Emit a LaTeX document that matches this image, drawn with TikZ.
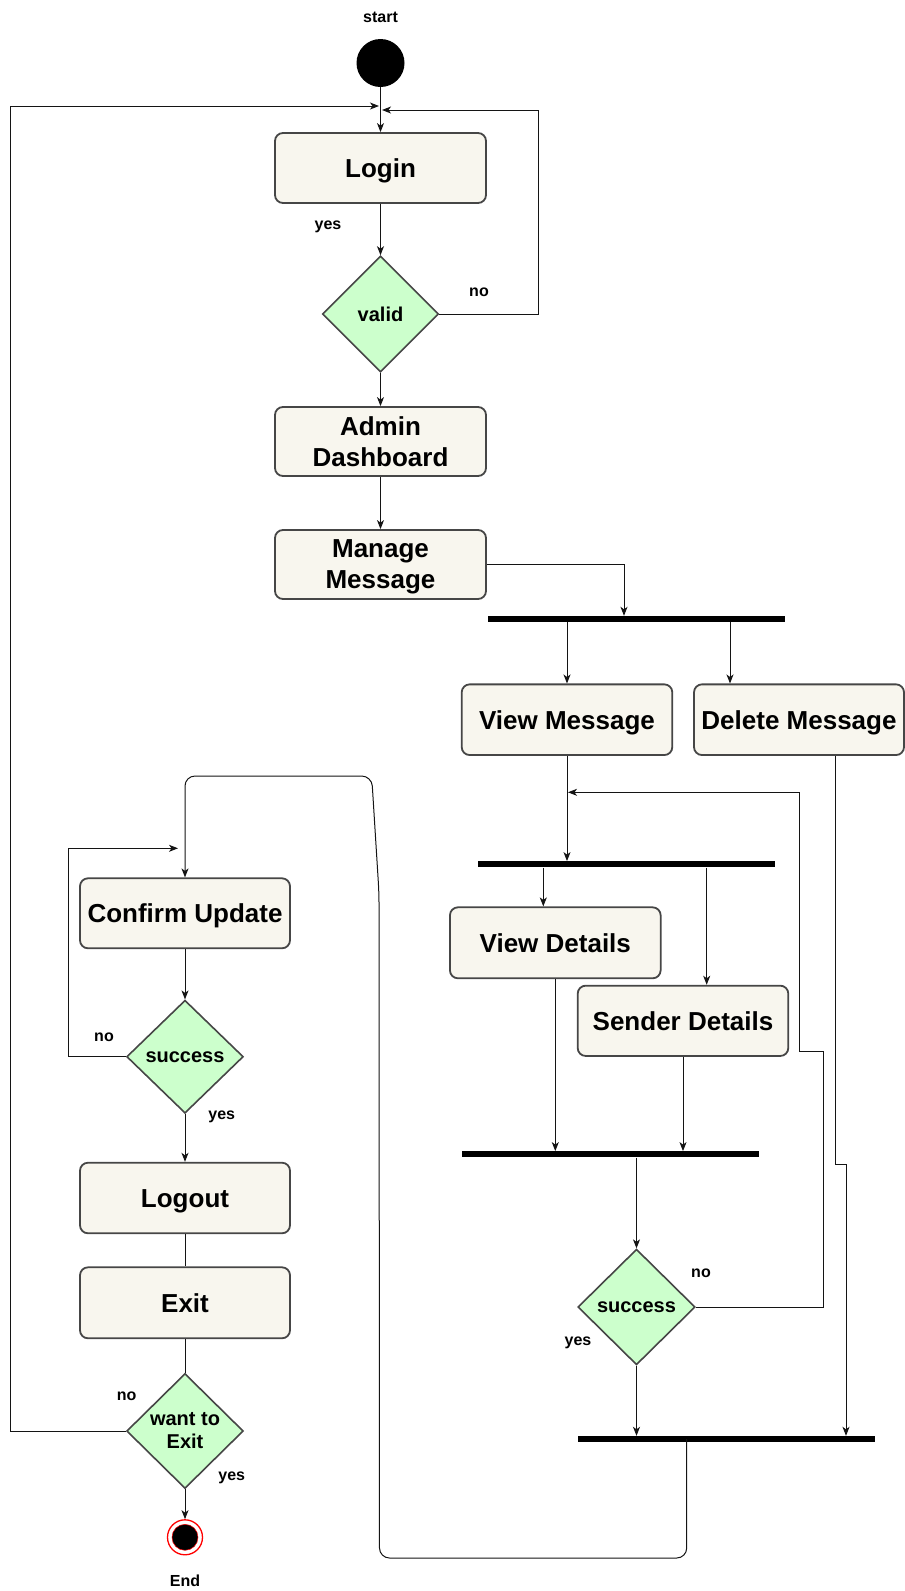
\documentclass[tikz,border=0pt]{standalone}
\usepackage{fontspec}
\setmainfont{Liberation Sans}
\usetikzlibrary{shapes.geometric,arrows.meta}
\definecolor{boxfill}{RGB}{248,246,238}
\definecolor{boxline}{RGB}{70,70,70}
\definecolor{dfill}{RGB}{204,255,204}
\definecolor{conn}{RGB}{20,20,20}
\tikzset{
 act/.style={draw=boxline, line width=1.8pt, fill=boxfill, rounded corners=8pt, inner sep=0pt, font=\fontsize{26}{31}\selectfont\bfseries, align=center},
 oneline/.style={text height=18.7pt, text depth=0pt},
 dec/.style={diamond, draw=boxline, line width=1.6pt, fill=dfill, inner sep=0pt, minimum width=116pt, minimum height=116pt, font=\fontsize{20}{23}\selectfont\bfseries},
 bar/.style={fill=black, inner sep=0pt, minimum height=6pt},
 lbl/.style={font=\fontsize{16}{19}\selectfont\bfseries, inner sep=0pt},
 arr/.style={conn, line width=1pt, -{Stealth[length=9pt,width=7pt,inset=2.5pt]}},
 ln/.style={conn, line width=1pt},
}
\begin{document}
\begin{tikzpicture}[x=1pt,y=-1pt]
\useasboundingbox (0,0) rectangle (905,1591);
% nodes
\node[lbl] (startl) at (380.5,17) {start};
\node[circle, fill=black, minimum size=48pt, inner sep=0pt] (start) at (380.5,63) {};
\node[act, oneline, minimum width=211pt, minimum height=70pt] (login) at (380.5,168) {Login};
\node[dec] (valid) at (380.5,314) {valid};
\node[act, minimum width=211pt, minimum height=69pt] (admin) at (380.5,441.5) {Admin\\Dashboard};
\node[act, minimum width=211pt, minimum height=69pt, text depth=0pt] (manage) at (380.5,564.5) {Manage\\Message};
\node[bar, minimum width=297pt] (bar1) at (636.5,619) {};
\node[act, oneline, minimum width=210.6pt, minimum height=70.7pt] (vm) at (567,719.7) {View Message};
\node[act, oneline, minimum width=210pt, minimum height=70.7pt] (dm) at (799,719.7) {Delete Message};
\node[bar, minimum width=296.7pt] (bar2) at (626.7,864.3) {};
\node[act, oneline, minimum width=210.7pt, minimum height=71pt] (vd) at (555.3,942.8) {View Details};
\node[act, oneline, minimum width=210.6pt, minimum height=70.3pt] (sd) at (683,1020.8) {Sender Details};
\node[bar, minimum width=297.3pt] (bar3) at (610.3,1154.3) {};
\node[dec, minimum width=117.3pt, minimum height=115.7pt] (succ2) at (636.5,1307) {success};
\node[bar, minimum width=296.7pt] (bar4) at (726.7,1439) {};
\node[act, oneline, minimum width=210pt, minimum height=70pt] (cu) at (185,913.3) {Confirm Update};
\node[dec, minimum width=116.7pt, minimum height=113pt] (succ1) at (185,1056.7) {success};
\node[act, oneline, minimum width=210pt, minimum height=70.6pt] (logout) at (185,1198) {Logout};
\node[act, oneline, minimum width=210pt, minimum height=71pt] (exit) at (185,1302.8) {Exit};
\node[dec, minimum width=116.7pt, minimum height=115pt, label={[font=\fontsize{20}{23}\selectfont\bfseries, align=center]center:want to\\Exit}] (wte) at (185,1431) {};
\node[circle, draw=red, line width=1.3pt, fill=white, minimum size=35pt, inner sep=0pt] (endo) at (185,1537.3) {};
\node[circle, draw=red, line width=0.5pt, fill=black, minimum size=26pt, inner sep=0pt] (endi) at (185,1537.3) {};
\node[lbl] (endl) at (185,1581) {End};
% labels
\node[lbl] (yes1) at (328,227) {yes};
\node[lbl] (no1) at (479,292) {no};
\node[lbl] (no2) at (701,1273) {no};
\node[lbl] (yes2) at (578,1343) {yes};
\node[lbl] (no3) at (104,1037) {no};
\node[lbl] (yes3) at (221.7,1117) {yes};
\node[lbl] (no4) at (126.7,1396) {no};
\node[lbl] (yes4) at (231.7,1478) {yes};
% coordinates
\coordinate (v1) at (538,314);
\coordinate (v2) at (538,110);
\coordinate (v3) at (382,110);
\coordinate (m1) at (624,564.5);
\coordinate (d1) at (730,700);
\coordinate (e1) at (543.3,900);
\coordinate (e2) at (706.7,900);
\coordinate (n1) at (823.3,1307);
\coordinate (n2) at (823.3,1051);
\coordinate (n3) at (799.3,1051);
\coordinate (n4) at (799.3,792.3);
\coordinate (n5) at (568,792.3);
\coordinate (f1) at (835,1164);
\coordinate (f2) at (846,1164);
\coordinate (g1) at (686.7,1558);
\coordinate (g2) at (379.5,1558);
\coordinate (g3) at (379,893);
\coordinate (g4) at (371.7,776);
\coordinate (g5) at (185,776);
\coordinate (h1) at (68.3,1056.7);
\coordinate (h2) at (68.3,848.3);
\coordinate (h3) at (178,848.3);
\coordinate (w1) at (10.7,1431);
\coordinate (w2) at (10.7,106);
\coordinate (w3) at (379,106);
% connectors
\draw[arr] (start) -- (login);
\draw[arr] (login) -- (valid);
\draw[arr] (valid.east) -- (v1) -- (v2) -- (v3);
\draw[arr] (valid) -- (admin);
\draw[arr] (admin) -- (manage);
\draw[arr] (manage.east) -- (m1) -- (bar1.north -| m1);
\draw[arr] (bar1.south -| vm.north) -- (vm.north);
\draw[arr] (bar1.south -| d1) -- (dm.north -| d1);
\draw[arr] (vm.south) -- (bar2.north -| vm.south);
\draw[arr] (bar2.south -| e1) -- (vd.north -| e1);
\draw[arr] (bar2.south -| e2) -- (sd.north -| e2);
\draw[arr] (vd.south) -- (bar3.north -| vd.south);
\draw[arr] (sd.south) -- (bar3.north -| sd.south);
\draw[arr] (bar3.south -| succ2.north) -- (succ2.north);
\draw[arr] (succ2.east) -- (n1) -- (n2) -- (n3) -- (n4) -- (n5);
\draw[arr] (dm.south -| f1) -- (f1) -- (f2) -- (bar4.north -| f2);
\draw[arr] (succ2.south) -- (bar4.north -| succ2.south);
\draw[arr, rounded corners=10pt] ([yshift=3pt]bar4.south -| g1) -- (g1) -- (g2) -- (g3) -- (g4) -- (g5) -- (cu.north);
\draw[arr] (cu) -- (succ1);
\draw[arr] (succ1.west) -- (h1) -- (h2) -- (h3);
\draw[arr] (succ1) -- (logout);
\draw[ln] (logout) -- (exit);
\draw[ln] (exit) -- (wte);
\draw[arr] (wte.west) -- (w1) -- (w2) -- (w3);
\draw[arr] (wte) -- (endo);
\end{tikzpicture}
\end{document}
